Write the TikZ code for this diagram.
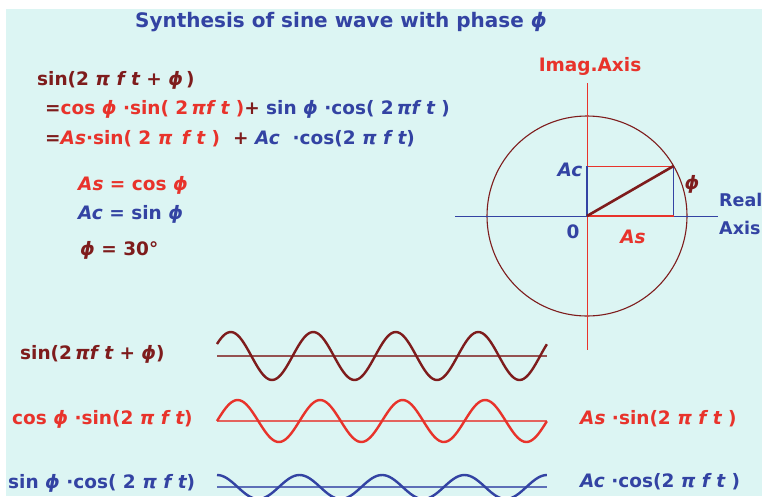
\documentclass[tikz,border=0pt]{standalone}
\usepackage{fontspec}
\setmainfont{DejaVu Sans}
\definecolor{bgcyan}{HTML}{DCF5F3}
\definecolor{wblue}{HTML}{3343A3}
\definecolor{wred}{HTML}{E8332B}
\definecolor{wmaroon}{HTML}{7E1C1C}
\newcommand{\phs}{{\itshape ϕ}}
\newcommand{\pis}{{\itshape π}}

\begin{document}
\begin{tikzpicture}[x=1pt,y=-1pt,
  txt/.style={inner sep=0pt,anchor=west,font=\bfseries\fontsize{18.5}{21}\selectfont},
  wave/.style={line width=2.4pt},
  base/.style={line width=1.5pt,opacity=0.75}]
  \useasboundingbox (0,0) rectangle (762,496);
  \clip (0,0) rectangle (762,496);
  \fill[bgcyan] (6,9) rectangle (762,496);

  % title and formulas
  \node[txt,anchor=center,text=wblue,font=\bfseries\fontsize{20}{24}\selectfont] (title) at (341,22)
    {Synthesis of sine wave with phase \phs};
  \node[txt,text=wmaroon] (eqa) at (37,80) {sin(2 \pis\ {\itshape f t} + \phs\,)};
  \node[txt] (eqb) at (45,109) {\textcolor{wmaroon}{=}\textcolor{wred}{cos \phs\ ·sin( 2\,\pis{\itshape f t} )}\textcolor{wmaroon}{+}
    \textcolor{wblue}{sin \phs\ ·cos( 2\,\pis{\itshape f t} )}};
  \node[txt] (eqc) at (45,139) {\textcolor{wmaroon}{=}\textcolor{wred}{{\itshape As}·sin( 2 \pis\ \,{\itshape f t} )}\textcolor{wmaroon}{\ \ +}
    \textcolor{wblue}{{\itshape Ac} \ ·cos(2 \pis\ {\itshape f t})}};
  \node[txt,text=wred] (defs) at (78,185) {{\itshape As} = cos \phs};
  \node[txt,text=wblue] (defc) at (78,214) {{\itshape Ac} = sin \phs};
  \node[txt,text=wmaroon] (defp) at (80,250) {\phs\ = 30°};

  % phasor diagram
  \coordinate (O) at (587,216);
  \coordinate (P) at (673.6,166);
  \coordinate (Px) at (673.6,216);
  \coordinate (Py) at (587,166);
  \draw[wmaroon,line width=1.1pt] (O) circle[radius=100pt];
  \draw[wred,line width=1pt] (587,83) -- (587,350);
  \draw[wblue,line width=1pt] (455,216) -- (718,216);
  \draw[wred,line width=0.9pt] (Py) -- (P);
  \draw[wblue,line width=0.9pt] (P) -- (Px);
  \draw[wred,line width=2.4pt] (O) -- (Px);
  \draw[wblue,line width=2.4pt] (O) -- (Py);
  \draw[wmaroon,line width=2.6pt] (O) -- (P);
  \node[txt,anchor=center,text=wred] (imag) at (590,66) {Imag.Axis};
  \node[txt,text=wblue,font=\bfseries\fontsize{17.5}{21}\selectfont] (real) at (719,200) {Real};
  \node[txt,text=wblue,font=\bfseries\fontsize{17.5}{21}\selectfont] (axis) at (719,228) {Axis};
  \node[txt,anchor=center,text=wblue] (zero) at (573,232) {0};
  \node[txt,anchor=center,text=wblue] (ac) at (570,170) {\itshape Ac};
  \node[txt,anchor=center,text=wred] (as) at (633,237) {\itshape As};
  \node[txt,anchor=center,text=wmaroon] (phi) at (692,184) {\phs};

  % waves
  \draw[base,wmaroon] (217,356) -- (547,356);
  \draw[wave,wmaroon] plot[domain=0:4,samples=160] ({217+82.5*\x},{356-24*sin(360*\x+30)});
  \draw[base,wred] (217,421) -- (547,421);
  \draw[wave,wred] plot[domain=0:4,samples=160] ({217+82.5*\x},{421-21*sin(360*\x)});
  \draw[base,wblue] (217,487) -- (547,487);
  \draw[wave,wblue] plot[domain=0:4,samples=160] ({217+82.5*\x},{487-12*cos(360*\x)});

  \node[txt,text=wmaroon] (la) at (20,354) {sin(2\,\pis{\itshape f t} + \phs)};
  \node[txt,text=wred] (lb) at (12,419) {cos \phs\ ·sin(2 \pis\ {\itshape f t})};
  \node[txt,text=wblue] (lc) at (8,483) {sin \phs\ ·cos( 2 \pis\ {\itshape f t})};
  \node[txt,text=wred] (rb) at (580,419) {{\itshape As} ·sin(2 \pis\ {\itshape f t} )};
  \node[txt,text=wblue] (rc) at (580,482) {{\itshape Ac} ·cos(2 \pis\ {\itshape f t} )};
\end{tikzpicture}
\end{document}
